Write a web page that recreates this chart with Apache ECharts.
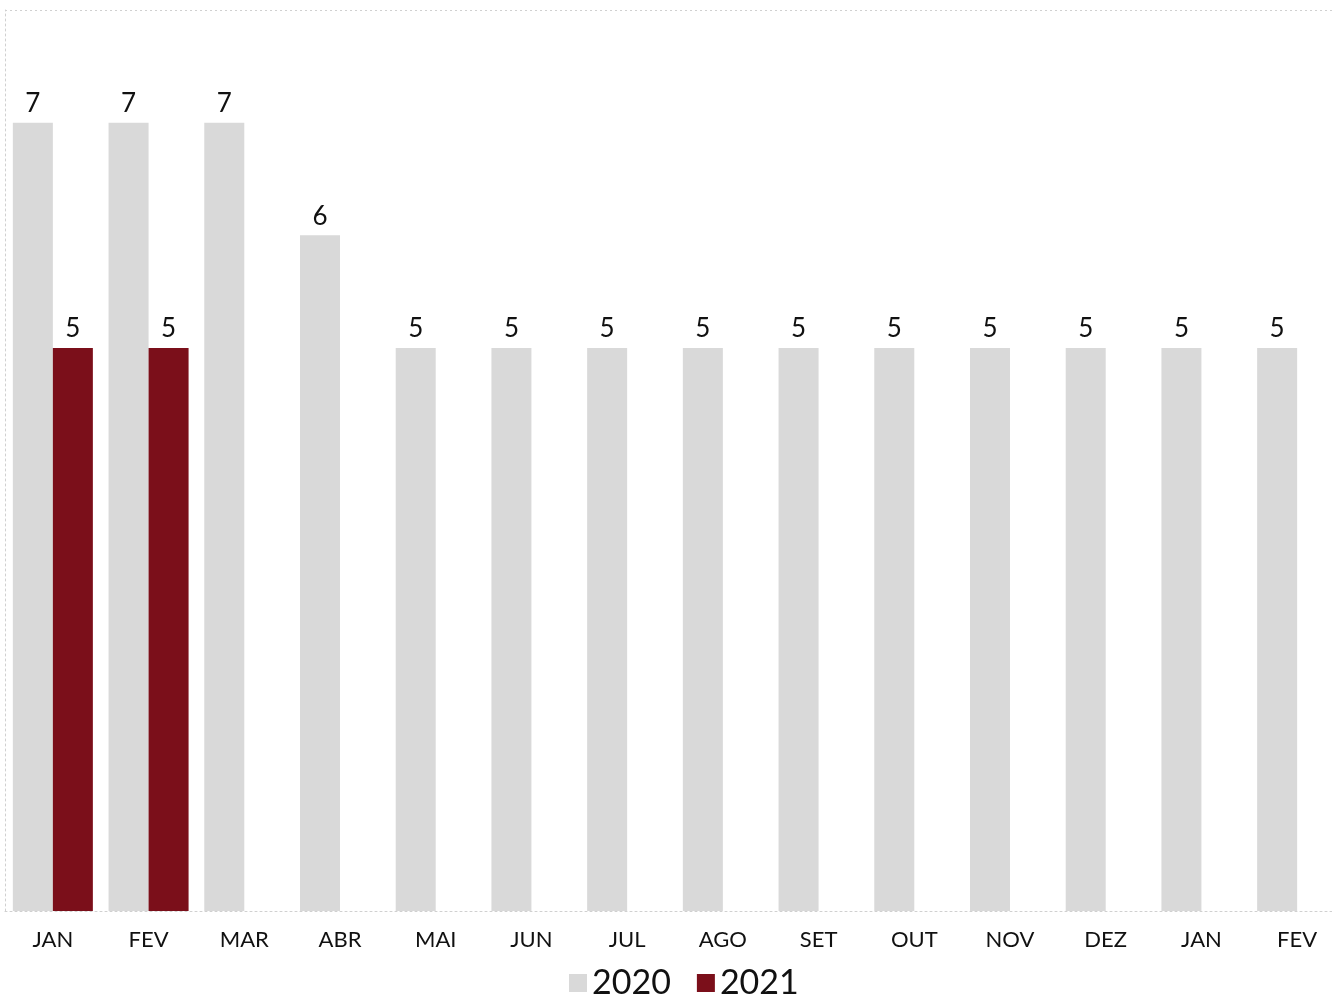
<!DOCTYPE html>
<html><head><meta charset="utf-8">
<script src="https://cdn.jsdelivr.net/npm/echarts@6/dist/echarts.min.js"></script>
<style>html,body{margin:0;padding:0;background:#fff;overflow:hidden}#c{width:1345px;height:994px}</style>
</head><body><div id="c"></div>
<script>
const categories = ['JAN','FEV','MAR','ABR','MAI','JUN','JUL','AGO','SET','OUT','NOV','DEZ','JAN','FEV'];
const values2020 = [7,7,7,6,5,5,5,5,5,5,5,5,5,5];
const values2021 = [5,5,null,null,null,null,null,null,null,null,null,null,null,null];
const seriesNames = ['2020','2021'];
const font = 'Lato';
const chart = echarts.init(document.getElementById('c'));
chart.setOption({
  animation:false,
  textStyle:{fontFamily:font},
  grid:{left:5,top:10,right:0,bottom:83,containLabel:false},
  legend:{
    data:seriesNames, top:961, left:564, itemWidth:18, itemHeight:18, itemGap:26,
    icon:'rect',
    textStyle:{fontSize:34,color:'#111',fontFamily:font}
  },
  xAxis:{type:'category',data:categories,
    axisLine:{show:true,lineStyle:{color:'#d0d0d0',type:[2,3],width:1}},
    axisTick:{show:false},
    axisLabel:{fontSize:22,color:'#111',margin:18,interval:0,fontFamily:font}
  },
  yAxis:{type:'value',min:0,max:8,interval:8,
    axisLine:{show:true,lineStyle:{color:'#d0d0d0',type:[2,3]}},
    axisLabel:{show:false},axisTick:{show:false},
    splitLine:{show:true,lineStyle:{color:'#d0d0d0',type:[2,3]}}
  },
  series:[
    {name:seriesNames[0],type:'bar',data:values2020,barGap:'0%',barCategoryGap:'16.4%',
     itemStyle:{color:'#d9d9d9'},
     label:{show:true,position:'top',fontSize:26,color:'#111',distance:6,fontFamily:font}},
    {name:seriesNames[1],type:'bar',data:values2021,
     itemStyle:{color:'#7b0f1a'},
     label:{show:true,position:'top',fontSize:26,color:'#111',distance:6,fontFamily:font}}
  ]
});
</script></body></html>
